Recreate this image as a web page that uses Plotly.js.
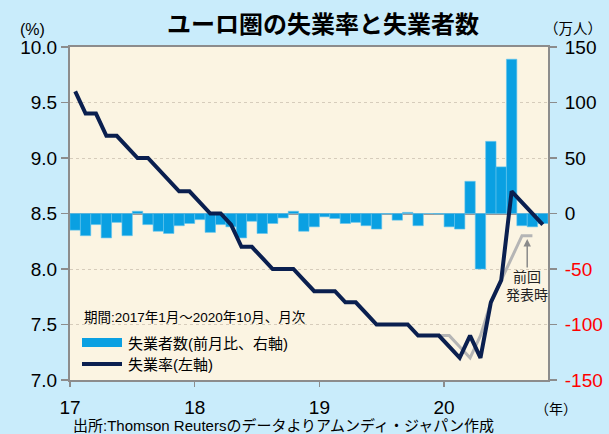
<!DOCTYPE html>
<html>
<head>
<meta charset="utf-8">
<script src="https://cdn.plot.ly/plotly-3.0.1.min.js"></script>
<style>html,body{margin:0;padding:0;background:#c9ecfb;}#chart{width:609px;height:434px;}</style>
</head>
<body>
<div id="chart"></div>
<script>
// ---- data ----
const months = [
  '2017-01','2017-02','2017-03','2017-04','2017-05','2017-06','2017-07','2017-08','2017-09','2017-10','2017-11','2017-12',
  '2018-01','2018-02','2018-03','2018-04','2018-05','2018-06','2018-07','2018-08','2018-09','2018-10','2018-11','2018-12',
  '2019-01','2019-02','2019-03','2019-04','2019-05','2019-06','2019-07','2019-08','2019-09','2019-10','2019-11','2019-12',
  '2020-01','2020-02','2020-03','2020-04','2020-05','2020-06','2020-07','2020-08','2020-09','2020-10'
];
// 失業者数 前月比 (万人)
const unemployedChange = [
  -15,-20,-10,-22,-8,-20, 2,-10,-16,-18,-11,-9,
  -5.5,-17,-10,-12,-22,-7,-18,-9,-4, 2,-16,-12,
  -3,-4.5,-9,-8,-11,-14,-0.5,-6, 1,-11, 0,-0.5,
  -12,-14, 29,-50, 65, 42,139,-11,-12,-9
];
// 失業率 (%)
const unemploymentRate = [
  9.6,9.4,9.4,9.2,9.2,9.1,9.0,9.0,8.9,8.8,8.7,8.7,
  8.6,8.5,8.5,8.4,8.2,8.2,8.1,8.0,8.0,8.0,7.9,7.8,
  7.8,7.8,7.7,7.7,7.6,7.5,7.5,7.5,7.5,7.4,7.4,7.4,
  7.3,7.2,7.4,7.2,7.7,7.9,8.7,8.6,8.5,8.4
];
// 前回発表時の失業率 (%)
const previousRate = [
  null,null,null,null,null,null,null,null,null,null,null,null,
  null,null,null,null,null,null,null,null,null,null,null,null,
  null,null,null,null,null,null,null,null,null,null,null,7.4,
  7.4,7.3,7.2,7.4,7.7,7.9,8.1,8.3,8.3,null
];
const yearTickLabels = ['17','18','19','20'];
const countTicks = [-150,-100,-50,0,50,100,150];

// ---- derived positions (month index centres) ----
const xpos = months.map((m, i) => i + 0.5);
const yearTickVals = months.map((m, i) => m.endsWith('-01') ? i : null).filter(v => v !== null);
const countTickText = countTicks.map(v => v < 0 ? '<span style="color:#ff0000">' + v + '</span>' : String(v));

const BAR = '#0aa0e2', NAVY = '#0a1f4f', GRAY = '#b5b5b5', CREAM = '#fbf4e2', AX = '#8c8c8c';
const FONT = 'Liberation Sans, "Noto Sans CJK JP", sans-serif';

const px = v => (v - 70) / 478;          // helper for paper coords in decoration
const py = v => (380 - v) / 333;

const traces = [
  {type:'bar', x:xpos, y:unemployedChange, yaxis:'y', name:'失業者数(前月比、右軸)',
   marker:{color:BAR, line:{color:'#63c4ee', width:0.6}}, showlegend:false, hoverinfo:'y'},
  {type:'scatter', mode:'lines', x:xpos, y:previousRate, yaxis:'y2', name:'前回発表時',
   line:{color:GRAY, width:3}, showlegend:false, connectgaps:false},
  {type:'scatter', mode:'lines', x:xpos, y:unemploymentRate, yaxis:'y2', name:'失業率(左軸)',
   line:{color:NAVY, width:4}, showlegend:false}
];

const layout = {
  width:609, height:434,
  margin:{l:70, r:61, t:47, b:54},
  paper_bgcolor:'#c9ecfb', plot_bgcolor:CREAM,
  font:{family:FONT, color:'#000'},
  bargap:0,
  title:{text:'<b>ユーロ圏の失業率と失業者数</b>', font:{size:24, color:'#000', family:FONT},
         x:(323-70)/478, xref:'paper', xanchor:'center', y:1-25/434, yref:'container', yanchor:'middle'},
  xaxis:{range:[0,46], tickvals:yearTickVals, ticktext:yearTickLabels, ticks:'outside', ticklen:5, tickwidth:1.5,
         tickcolor:AX, showline:true, linecolor:AX, linewidth:2, mirror:true, showgrid:false, zeroline:false,
         tickfont:{size:19}, ticklabelstandoff:4, fixedrange:true},
  yaxis:{range:[-150,150], side:'right', tickvals:countTicks, ticktext:countTickText, ticks:'outside', ticklen:7,
         tickwidth:1.5, tickcolor:AX, showline:true, linecolor:AX, linewidth:2,
         showgrid:true, gridcolor:'#d6ccbb', griddash:'dot', gridwidth:1, ticklabelstandoff:4,
         zeroline:true, zerolinecolor:'#9a9a9a', zerolinewidth:2, tickfont:{size:19}},
  yaxis2:{range:[7,10], overlaying:'y', side:'left', dtick:0.5, tick0:7, tickformat:'.1f', ticks:'outside', ticklen:7,
          tickwidth:1.5, tickcolor:AX, showline:true, linecolor:AX, linewidth:2, showgrid:false, zeroline:false,
          tickfont:{size:19}},
  shapes:[
    {type:'rect', xref:'paper', yref:'paper', x0:px(78), x1:px(316), y0:py(374), y1:py(308),
     fillcolor:CREAM, line:{width:0}, layer:'between'},
    {type:'rect', xref:'paper', yref:'paper', x0:px(82), x1:px(122), y0:py(347), y1:py(338),
     fillcolor:BAR, line:{width:0}},
    {type:'line', xref:'paper', yref:'paper', x0:px(82), x1:px(122), y0:py(364), y1:py(364),
     line:{color:NAVY, width:4}}
  ],
  annotations:[
    {text:'(%)', xref:'paper', yref:'paper', x:px(32), y:py(29), showarrow:false, font:{size:16}, xanchor:'center', yanchor:'middle'},
    {text:'（万人）', xref:'paper', yref:'paper', x:px(573), y:py(29), showarrow:false, font:{size:14.5}, xanchor:'center', yanchor:'middle'},
    {text:'（年）', xref:'paper', yref:'paper', x:px(556), y:py(409), showarrow:false, font:{size:14}, xanchor:'center', yanchor:'middle'},
    {text:'出所:Thomson Reutersのデータよりアムンディ・ジャパン作成', xref:'paper', yref:'paper', x:px(71), y:py(425),
     showarrow:false, font:{size:15}, xanchor:'left', yanchor:'middle'},
    {text:'期間:2017年1月～2020年10月、月次', xref:'paper', yref:'paper', x:px(82), y:py(317), showarrow:false,
     font:{size:13.5}, xanchor:'left', yanchor:'middle'},
    {text:'失業者数(前月比、右軸)', xref:'paper', yref:'paper', x:px(126), y:py(343), showarrow:false,
     font:{size:15}, xanchor:'left', yanchor:'middle'},
    {text:'失業率(左軸)', xref:'paper', yref:'paper', x:px(126), y:py(364), showarrow:false,
     font:{size:15}, xanchor:'left', yanchor:'middle'},
    {text:'前回<br>発表時', xref:'x', yref:'y2', x:44.0, y:8.27, ax:0, ay:47, showarrow:true,
     arrowhead:2, arrowsize:1, arrowwidth:1.5, arrowcolor:'#8a8a8a', font:{size:14, color:'#222'}, standoff:0}
  ]
};

Plotly.newPlot('chart', traces, layout, {staticPlot:true, displayModeBar:false});
</script>
</body>
</html>
